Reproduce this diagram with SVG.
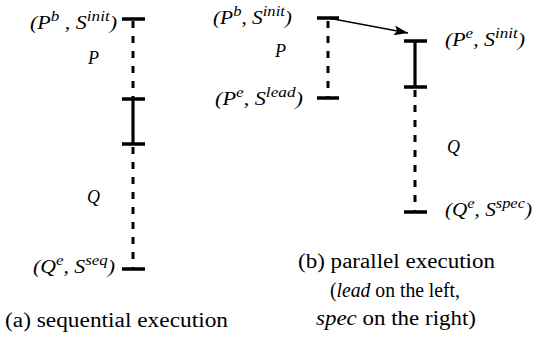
<svg xmlns="http://www.w3.org/2000/svg" width="534" height="337" viewBox="0 0 534 337">
<style>
.lbl{font-style:italic;font-size:18px;fill:#000}
.sup{font-size:14px}
.cap{font-size:20px;fill:#000}
.it{font-style:italic}
.solid{stroke:#000;stroke-width:3.2;fill:none}
.dash{stroke:#000;stroke-width:3;fill:none;stroke-dasharray:7 8}
.tick{stroke:#000;stroke-width:3.5;fill:none}
</style>
<defs>
<marker id="ah" viewBox="0 0 14 10" refX="14" refY="5" markerWidth="14" markerHeight="10" markerUnits="userSpaceOnUse" orient="auto">
<path d="M0,0 L14,5 L0,10 L3,5 Z" fill="#000"/>
</marker>
</defs>
<g id="connectors">
<line class="dash" x1="133" y1="21" x2="133" y2="98"/>
<line class="solid" x1="133" y1="99" x2="133" y2="144"/>
<line class="dash" x1="133" y1="147" x2="133" y2="268"/>
<line class="dash" x1="328" y1="21" x2="328" y2="97"/>
<line class="solid" x1="415" y1="41" x2="415" y2="87"/>
<line class="dash" x1="415" y1="90" x2="415" y2="211"/>
<path d="M328,18 L408,33" stroke="#000" stroke-width="1.5" fill="none" marker-end="url(#ah)"/>
</g>
<g id="ticks">
<line class="tick" x1="122" y1="19" x2="145" y2="19"/>
<line class="tick" x1="122" y1="99" x2="145" y2="99"/>
<line class="tick" x1="122" y1="144" x2="145" y2="144"/>
<line class="tick" x1="122" y1="269" x2="145" y2="269"/>
<line class="tick" x1="317" y1="18" x2="339" y2="18"/>
<line class="tick" x1="317" y1="98" x2="339" y2="98"/>
<line class="tick" x1="404" y1="41" x2="427" y2="41"/>
<line class="tick" x1="404" y1="87" x2="427" y2="87"/>
<line class="tick" x1="404" y1="212" x2="427" y2="212"/>
</g>
<g font-family="Liberation Serif, Times New Roman, DejaVu Serif, serif">
<g id="node-a-top"><text class="lbl" x="30" y="29" textLength="87" lengthAdjust="spacingAndGlyphs">(P<tspan class="sup" dy="-8">b</tspan><tspan dy="8"> , S</tspan><tspan class="sup" dy="-8">init</tspan><tspan dy="8">)</tspan></text></g>
<g id="node-a-P"><text class="lbl" x="88" y="64">P</text></g>
<g id="node-a-Q"><text class="lbl" x="87" y="203">Q</text></g>
<g id="node-a-bottom"><text class="lbl" x="33" y="273" textLength="82" lengthAdjust="spacingAndGlyphs">(Q<tspan class="sup" dy="-8">e</tspan><tspan dy="8">, S</tspan><tspan class="sup" dy="-8">seq</tspan><tspan dy="8">)</tspan></text></g>
<g id="node-b-top"><text class="lbl" x="213" y="24" textLength="79" lengthAdjust="spacingAndGlyphs">(P<tspan class="sup" dy="-8">b</tspan><tspan dy="8">, S</tspan><tspan class="sup" dy="-8">init</tspan><tspan dy="8">)</tspan></text></g>
<g id="node-b-P"><text class="lbl" x="275" y="57">P</text></g>
<g id="node-b-lead"><text class="lbl" x="215" y="105" textLength="88" lengthAdjust="spacingAndGlyphs">(P<tspan class="sup" dy="-8">e</tspan><tspan dy="8">, S</tspan><tspan class="sup" dy="-8">lead</tspan><tspan dy="8">)</tspan></text></g>
<g id="node-b-init"><text class="lbl" x="445" y="46" textLength="80" lengthAdjust="spacingAndGlyphs">(P<tspan class="sup" dy="-8">e</tspan><tspan dy="8">, S</tspan><tspan class="sup" dy="-8">init</tspan><tspan dy="8">)</tspan></text></g>
<g id="node-b-Q"><text class="lbl" x="447" y="153">Q</text></g>
<g id="node-b-spec"><text class="lbl" x="445" y="216" textLength="87" lengthAdjust="spacingAndGlyphs">(Q<tspan class="sup" dy="-8">e</tspan><tspan dy="8">, S</tspan><tspan class="sup" dy="-8">spec</tspan><tspan dy="8">)</tspan></text></g>
<g id="captions">
<text class="cap" x="5" y="327" textLength="223" lengthAdjust="spacingAndGlyphs">(a) sequential execution</text>
<text class="cap" x="298" y="268" textLength="197" lengthAdjust="spacingAndGlyphs">(b) parallel execution</text>
<text class="cap" x="330" y="297" textLength="130" lengthAdjust="spacingAndGlyphs">(<tspan class="it">lead</tspan> on the left,</text>
<text class="cap" x="316" y="325" textLength="160" lengthAdjust="spacingAndGlyphs"><tspan class="it">spec</tspan> on the right)</text>
</g>
</g>
</svg>
